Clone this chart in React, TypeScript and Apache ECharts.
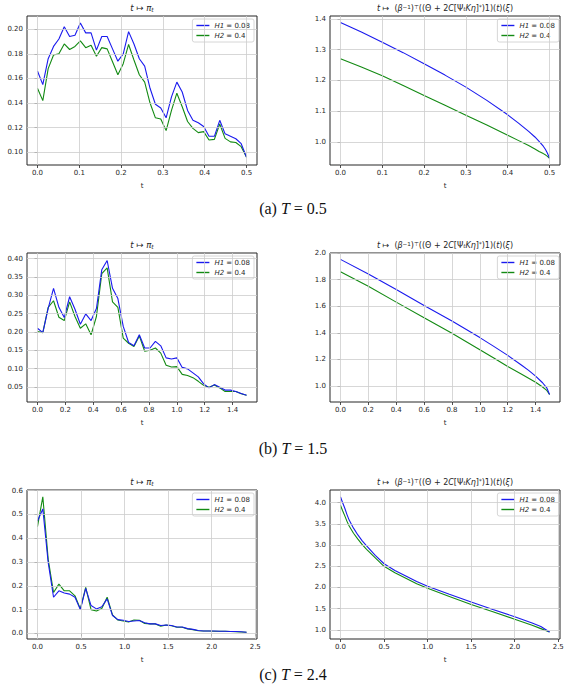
import React, { useEffect, useRef } from "react";
import * as echarts from "echarts";

const H1_LABEL = "H1 = 0.08";
const H2_LABEL = "H2 = 0.4";
const BLUE = "#1a1aee";
const GREEN = "#138a13";

// (a) T = 0.5 — t ↦ π_t on 40 equally spaced times
const piA_H1 = [0.166, 0.155, 0.176, 0.186, 0.192, 0.202, 0.194, 0.195, 0.205, 0.197, 0.197, 0.183, 0.194, 0.194, 0.184, 0.174, 0.180, 0.198, 0.188, 0.176, 0.170, 0.152, 0.139, 0.136, 0.128, 0.145, 0.157, 0.149, 0.134, 0.126, 0.124, 0.121, 0.113, 0.113, 0.126, 0.115, 0.113, 0.111, 0.107, 0.096];
const piA_H2 = [0.152, 0.142, 0.168, 0.179, 0.180, 0.188, 0.1835, 0.186, 0.1905, 0.185, 0.187, 0.178, 0.185, 0.184, 0.1735, 0.163, 0.172, 0.1876, 0.175, 0.163, 0.157, 0.140, 0.128, 0.127, 0.1176, 0.134, 0.148, 0.137, 0.125, 0.1195, 0.116, 0.1168, 0.110, 0.1105, 0.123, 0.1113, 0.1085, 0.108, 0.1046, 0.096];
const betaA_t = [0, 0.05, 0.1, 0.15, 0.2, 0.25, 0.3, 0.35, 0.4, 0.425, 0.45, 0.465, 0.475, 0.485, 0.49, 0.495, 0.5];
const betaA_H1 = [1.388, 1.357, 1.324, 1.290, 1.254, 1.217, 1.178, 1.135, 1.088, 1.062, 1.034, 1.016, 1.002, 0.986, 0.976, 0.963, 0.947];
const betaA_H2 = [1.270, 1.243, 1.215, 1.183, 1.151, 1.119, 1.087, 1.055, 1.022, 1.005, 0.988, 0.977, 0.969, 0.962, 0.958, 0.953, 0.947];

// (b) T = 1.5
const piB_H1 = [0.210, 0.198, 0.264, 0.319, 0.267, 0.239, 0.296, 0.262, 0.221, 0.249, 0.231, 0.264, 0.370, 0.395, 0.319, 0.291, 0.215, 0.171, 0.162, 0.192, 0.156, 0.156, 0.174, 0.162, 0.129, 0.126, 0.129, 0.103, 0.099, 0.088, 0.077, 0.058, 0.047, 0.056, 0.049, 0.041, 0.041, 0.037, 0.032, 0.027];
const piB_H2 = [0.201, 0.198, 0.267, 0.285, 0.240, 0.231, 0.282, 0.242, 0.210, 0.222, 0.192, 0.242, 0.359, 0.375, 0.282, 0.267, 0.183, 0.169, 0.160, 0.189, 0.147, 0.150, 0.156, 0.142, 0.109, 0.104, 0.105, 0.084, 0.081, 0.075, 0.065, 0.054, 0.049, 0.055, 0.047, 0.037, 0.037, 0.037, 0.031, 0.027];
const betaB_t = [0, 0.2, 0.4, 0.6, 0.8, 1.0, 1.1, 1.2, 1.3, 1.35, 1.4, 1.45, 1.48, 1.5];
const betaB_H1 = [1.953, 1.843, 1.726, 1.606, 1.489, 1.364, 1.298, 1.230, 1.156, 1.117, 1.074, 1.024, 0.986, 0.935];
const betaB_H2 = [1.860, 1.751, 1.631, 1.514, 1.397, 1.272, 1.210, 1.147, 1.088, 1.058, 1.028, 0.992, 0.966, 0.935];

// (c) T = 2.4
const piC_H1 = [0.472, 0.523, 0.298, 0.152, 0.179, 0.170, 0.165, 0.152, 0.100, 0.189, 0.117, 0.103, 0.112, 0.145, 0.075, 0.058, 0.055, 0.050, 0.052, 0.054, 0.045, 0.040, 0.040, 0.033, 0.035, 0.033, 0.027, 0.027, 0.020, 0.017, 0.012, 0.010, 0.010, 0.010, 0.009, 0.009, 0.008, 0.008, 0.007, 0.005];
const piC_H2 = [0.448, 0.574, 0.312, 0.172, 0.207, 0.179, 0.179, 0.158, 0.103, 0.193, 0.100, 0.094, 0.105, 0.152, 0.078, 0.056, 0.052, 0.048, 0.056, 0.055, 0.042, 0.040, 0.040, 0.030, 0.035, 0.032, 0.026, 0.026, 0.019, 0.016, 0.011, 0.010, 0.010, 0.009, 0.009, 0.009, 0.008, 0.007, 0.006, 0.005];
const betaC_t = [0, 0.025, 0.05, 0.075, 0.1, 0.15, 0.2, 0.25, 0.3, 0.4, 0.5, 0.625, 0.75, 0.875, 1.0, 1.25, 1.5, 1.75, 2.0, 2.2, 2.3, 2.4];
const betaC_H1 = [4.14, 4.00, 3.87, 3.72, 3.59, 3.40, 3.24, 3.10, 2.98, 2.76, 2.56, 2.40, 2.27, 2.14, 2.03, 1.84, 1.66, 1.48, 1.31, 1.16, 1.08, 0.95];
const betaC_H2 = [3.94, 3.81, 3.69, 3.56, 3.45, 3.28, 3.14, 3.01, 2.90, 2.70, 2.50, 2.35, 2.22, 2.09, 1.98, 1.79, 1.60, 1.43, 1.25, 1.11, 1.03, 0.95];

// tick positions of each panel
const ticksA_x = [0, 0.1, 0.2, 0.3, 0.4, 0.5];
const ticksB_x = [0, 0.2, 0.4, 0.6, 0.8, 1.0, 1.2, 1.4];
const ticksC_x = [0, 0.5, 1.0, 1.5, 2.0, 2.5];
const ticksPiA_y = [0.10, 0.12, 0.14, 0.16, 0.18, 0.20];
const ticksBetaA_y = [1.0, 1.1, 1.2, 1.3, 1.4];
const ticksPiB_y = [0.05, 0.10, 0.15, 0.20, 0.25, 0.30, 0.35, 0.40];
const ticksBetaB_y = [1.0, 1.2, 1.4, 1.6, 1.8, 2.0];
const ticksPiC_y = [0.0, 0.1, 0.2, 0.3, 0.4, 0.5, 0.6];
const ticksBetaC_y = [1.0, 1.5, 2.0, 2.5, 3.0, 3.5, 4.0];

const horizons = [0.5, 1.5, 2.4];
const captions = ["(a)", "(b)", "(c)"];

const TITLE_PI = "{i|t} ↦ {i|π}{s|t}";
const TITLE_BETA =
  "{i|t} ↦  ({i|β}{p|−1}){p|⊤}((Θ + 2{i|C}[Ψ{s|t}{i|Kη}]{p|*})1)({i|t})({i|ξ})";

const gridTimes = (T: number, n: number) =>
  Array.from({ length: n }, (_, i) => (i * T) / (n - 1));
const pairs = (ts: number[], vs: number[]) => vs.map((v, i) => [ts[i], v]);

type AxisSpec = { min: number; max: number; ticks: number[]; dec: number };
type Panel = {
  left: number;
  top: number;
  xs: number[];
  h1: number[];
  h2: number[];
  x: AxisSpec;
  y: AxisSpec;
  title: string;
  legendRight: number;
};

const LEFT_X = 27;
const RIGHT_X = 330;
const ROW_TOP = [16, 253, 490];
const W = 230;
const H = 149;

const panels: Panel[] = [
  { left: LEFT_X, top: ROW_TOP[0], xs: gridTimes(horizons[0], piA_H1.length), h1: piA_H1, h2: piA_H2,
    x: { min: -0.025, max: 0.525, ticks: ticksA_x, dec: 1 }, y: { min: 0.0897, max: 0.2107, ticks: ticksPiA_y, dec: 2 },
    title: TITLE_PI, legendRight: 318 },
  { left: RIGHT_X, top: ROW_TOP[0], xs: betaA_t, h1: betaA_H1, h2: betaA_H2,
    x: { min: -0.025, max: 0.525, ticks: ticksA_x, dec: 1 }, y: { min: 0.925, max: 1.409, ticks: ticksBetaA_y, dec: 1 },
    title: TITLE_BETA, legendRight: 13 },
  { left: LEFT_X, top: ROW_TOP[1], xs: gridTimes(horizons[1], piB_H1.length), h1: piB_H1, h2: piB_H2,
    x: { min: -0.075, max: 1.575, ticks: ticksB_x, dec: 1 }, y: { min: 0.0085, max: 0.4155, ticks: ticksPiB_y, dec: 2 },
    title: TITLE_PI, legendRight: 318 },
  { left: RIGHT_X, top: ROW_TOP[1], xs: betaB_t, h1: betaB_H1, h2: betaB_H2,
    x: { min: -0.075, max: 1.575, ticks: ticksB_x, dec: 1 }, y: { min: 0.879, max: 2.001, ticks: ticksBetaB_y, dec: 1 },
    title: TITLE_BETA, legendRight: 13 },
  { left: LEFT_X, top: ROW_TOP[2], xs: gridTimes(horizons[2], piC_H1.length), h1: piC_H1, h2: piC_H2,
    x: { min: -0.12, max: 2.52, ticks: ticksC_x, dec: 1 }, y: { min: -0.0235, max: 0.6025, ticks: ticksPiC_y, dec: 1 },
    title: TITLE_PI, legendRight: 318 },
  { left: RIGHT_X, top: ROW_TOP[2], xs: betaC_t, h1: betaC_H1, h2: betaC_H2,
    x: { min: -0.12, max: 2.52, ticks: ticksC_x, dec: 1 }, y: { min: 0.785, max: 4.30, ticks: ticksBetaC_y, dec: 1 },
    title: TITLE_BETA, legendRight: 13 },
];

const FONT = "DejaVu Sans";
const INK = "#262626";
const GRIDLINE = "#cdcdcd";

const makeAxis = (i: number, a: AxisSpec, isX: boolean) => ({
  gridIndex: i,
  type: "value",
  min: a.min,
  max: a.max,
  axisLine: { show: false },
  axisTick: {
    show: true,
    length: 3,
    customValues: a.ticks,
    lineStyle: { color: INK, width: 0.8 },
  },
  axisLabel: {
    customValues: a.ticks,
    fontFamily: FONT,
    fontSize: 7,
    color: INK,
    margin: 4,
    formatter: (v: number) => v.toFixed(a.dec),
  },
  splitLine: { show: false },
  ...(isX
    ? {
        name: "t",
        nameLocation: "middle",
        nameGap: 17,
        nameTextStyle: { fontFamily: FONT, fontSize: 7, color: INK },
      }
    : {}),
});

const textRich = (size: number) => ({
  i: { fontStyle: "italic", fontSize: size, fontFamily: FONT, fill: INK },
  s: { fontStyle: "italic", fontSize: size * 0.7, fontFamily: FONT, verticalAlign: "bottom", fill: INK },
  p: { fontSize: size * 0.7, fontFamily: FONT, verticalAlign: "top", fill: INK },
});

function buildOption() {
  const grid = panels.map((p) => ({
    left: p.left,
    top: p.top,
    width: W,
    height: H,
    show: true,
    borderColor: INK,
    borderWidth: 1,
    backgroundColor: "transparent",
  }));
  const xAxis = panels.map((p, i) => makeAxis(i, p.x, true));
  const yAxis = panels.map((p, i) => makeAxis(i, p.y, false));
  const series: any[] = [];
  panels.forEach((p, i) => {
    // grid lines at the tick positions
    series.push({
      type: "line",
      xAxisIndex: i,
      yAxisIndex: i,
      data: [],
      silent: true,
      z: 1,
      markLine: {
        silent: true,
        symbol: "none",
        label: { show: false },
        lineStyle: { color: GRIDLINE, width: 0.8, type: "solid" },
        emphasis: { disabled: true },
        data: [
          ...p.x.ticks.filter((v) => v <= p.x.max).map((v) => ({ xAxis: v })),
          ...p.y.ticks.filter((v) => v >= p.y.min && v <= p.y.max).map((v) => ({ yAxis: v })),
        ],
      },
    });
    [
      { name: H2_LABEL, data: p.h2, color: GREEN },
      { name: H1_LABEL, data: p.h1, color: BLUE },
    ].forEach((s) =>
      series.push({
        type: "line",
        name: s.name,
        xAxisIndex: i,
        yAxisIndex: i,
        data: pairs(p.xs, s.data),
        showSymbol: false,
        smooth: false,
        lineStyle: { color: s.color, width: 1.1 },
        itemStyle: { color: s.color },
        z: 3,
      })
    );
  });
  const legend = panels.map((p) => ({
    data: [H1_LABEL, H2_LABEL],
    orient: "vertical",
    right: p.legendRight,
    top: p.top + 3,
    icon: "rect",
    itemWidth: 13,
    itemHeight: 1.4,
    itemGap: 3,
    padding: [3, 4, 3, 4],
    backgroundColor: "rgba(255,255,255,0.85)",
    borderColor: "#cccccc",
    borderWidth: 0.8,
    borderRadius: 2,
    selectedMode: false,
    formatter: (name: string) => name.replace(/^(H\d)/, "{i|$1}"),
    textStyle: {
      fontFamily: FONT,
      fontSize: 7,
      color: INK,
      rich: { i: { fontStyle: "italic", fontSize: 7, fontFamily: FONT, color: INK } },
    },
  }));
  const graphic: any[] = panels.map((p) => ({
    type: "text",
    x: p.left + W / 2,
    y: p.top - 8,
    style: {
      text: p.title,
      align: "center",
      verticalAlign: "middle",
      fontFamily: FONT,
      fontSize: p.title === TITLE_PI ? 8.5 : 8,
      fill: INK,
      rich: textRich(p.title === TITLE_PI ? 8.5 : 8),
    },
  }));
  const captionY = [208, 448, 674];
  horizons.forEach((T, k) => {
    graphic.push({
      type: "text",
      x: 293,
      y: captionY[k],
      style: {
        text: `${captions[k]} {i|T} = ${T.toFixed(1)}`,
        align: "center",
        verticalAlign: "middle",
        fontFamily: "Liberation Serif",
        fontSize: 16,
        fill: "#111",
        rich: { i: { fontStyle: "italic", fontFamily: "Liberation Serif", fontSize: 16, fill: "#111" } },
      },
    });
  });
  return {
    animation: false,
    backgroundColor: "#ffffff",
    grid,
    xAxis,
    yAxis,
    series,
    legend,
    graphic,
  };
}

export default function App() {
  const ref = useRef<HTMLDivElement>(null);
  useEffect(() => {
    if (!ref.current) return;
    const chart = echarts.init(ref.current, undefined, { renderer: "svg" });
    chart.setOption(buildOption() as any);
    return () => chart.dispose();
  }, []);
  return (
    <div
      ref={ref}
      style={{ position: "fixed", left: 0, top: 0, width: 572, height: 684, background: "#fff" }}
    />
  );
}
